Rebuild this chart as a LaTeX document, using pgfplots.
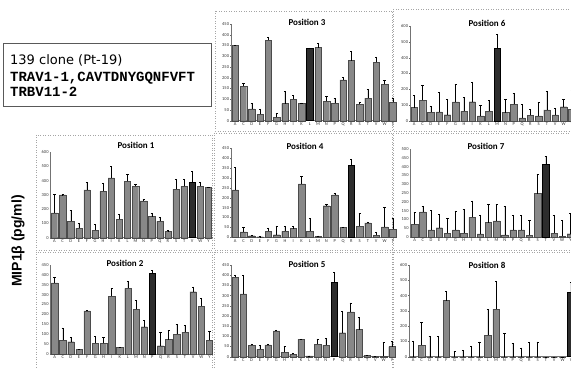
\documentclass[border=0pt]{standalone}
\usepackage{pgfplots}
\pgfplotsset{compat=1.18}
\usepackage{fontspec}
\newfontfamily\calibri{Carlito}
\newfontfamily\monob{Liberation Mono}
\newfontfamily\dejavu{DejaVu Sans}
\newfontfamily\labfont{Liberation Sans}
\definecolor{barfill}{RGB}{136,136,136}
\definecolor{baredge}{RGB}{75,75,75}
\definecolor{darkfill}{RGB}{45,45,45}
\definecolor{panelline}{RGB}{165,165,165}
\newcommand{\tickfont}{\calibri\fontsize{4.5}{5}\selectfont}
\pgfplotsset{
  panel/.style={
    scale only axis, anchor=south west,
    xmin=-0.5, xmax=19.5, ymin=0,
    axis x line=bottom, axis y line=left,
    axis line style={-, black!55, line width=0.4pt},
    xtick={0,...,19},
    xticklabels={A,C,D,E,F,G,H,I,K,L,M,N,P,Q,R,S,T,V,W,Y},
    xtick style={draw=none},
    ytick style={black!60, line width=0.3pt},
    major tick length=1.5pt,
    tick label style={font=\tickfont, text=black!80},
    xticklabel style={inner sep=1pt},
    yticklabel style={inner sep=1pt},
    /pgf/number format/assume math mode=true,
    clip=false,
  },
  gbar/.style={ybar, bar width=0.78, bar shift=0pt, fill=barfill, draw=baredge, line width=0.3pt,
    error bars/y dir=plus, error bars/y explicit,
    error bars/error bar style={black, line width=0.35pt},
    error bars/error mark options={rotate=90, black, mark size=1.1pt, line width=0.35pt}},
  dbar/.style={ybar, bar width=0.78, bar shift=0pt, fill=darkfill, draw=black, line width=0.5pt,
    error bars/y dir=plus, error bars/y explicit,
    error bars/error bar style={black, line width=0.35pt},
    error bars/error mark options={rotate=90, black, mark size=1.1pt, line width=0.35pt}},
}
\begin{document}
\begin{tikzpicture}[x=1pt,y=1pt]
\useasboundingbox (0,0) rectangle (571,369);
\clip (0,0) rectangle (571,369);
% panel borders
\begin{scope}[panelline, dotted, line width=0.5pt]
\draw (215,358) rectangle (392,238);
\draw (393,360) rectangle (575,238);
\draw (36,234) rectangle (212,119);
\draw (214,236) rectangle (392,119);
\draw (393,236) rectangle (575,119);
\draw (36,117) rectangle (212,-3);
\draw (214,117) rectangle (392,-3);
\draw (393,117) rectangle (575,-3);
\end{scope}

% Position 3
\begin{axis}[panel, at={(231pt,248.3pt)}, width=166pt, height=96.7pt, ymax=450, ytick={0,50,...,450}]
\addplot[gbar] table[x=x,y=y,y error=e] {
x y e
0 350 3
1 160 15
2 55 25
3 30 25
4 375 12
5 15 18
6 80 57
7 100 17
8 80 3
10 340 20
11 90 22
12 82 22
13 190 12
14 280 45
15 77 8
16 105 40
17 272 25
18 170 18
19 85 22
};
\addplot[dbar] table[x=x,y=y,y error=e] {
x y e
9 337 2
};
\end{axis}

% Position 6
\begin{axis}[panel, at={(410pt,248pt)}, width=166pt, height=95pt, ymax=600, ytick={0,100,...,600}]
\addplot[gbar] table[x=x,y=y,y error=e] {
x y e
0 85 75
1 130 95
2 55 40
3 58 125
4 40 95
5 120 110
6 60 90
7 122 125
8 33 67
9 62 68
11 53 85
12 105 70
13 20 85
14 35 40
15 33 85
16 70 120
17 38 42
18 90 47
19 72 125
};
\addplot[dbar] table[x=x,y=y,y error=e] {
x y e
10 460 88
};
\end{axis}

% Position 1
\begin{axis}[panel, at={(50.5pt,131.3pt)}, width=162pt, height=85.5pt, ymax=600, ytick={0,100,...,600}]
\addplot[gbar] table[x=x,y=y,y error=e] {
x y e
0 175 130
1 300 3
2 115 75
3 65 35
4 335 55
5 52 40
6 325 60
7 420 80
8 130 35
9 395 50
10 360 15
11 258 12
12 148 22
13 115 28
14 45 5
15 340 70
16 360 50
18 360 30
19 355 2
};
\addplot[dbar] table[x=x,y=y,y error=e] {
x y e
17 390 75
};
\end{axis}

% Position 4
\begin{axis}[panel, at={(231pt,131.7pt)}, width=166pt, height=89pt, ymax=450, ytick={0,50,...,450}]
\addplot[gbar] table[x=x,y=y,y error=e] {
x y e
0 240 115
1 28 25
2 8 2
3 3 1
4 30 18
5 13 45
6 30 28
7 44 13
8 270 37
9 30 65
10 5 3
11 160 8
12 215 8
13 50 3
15 57 63
16 73 5
17 10 18
18 53 100
19 40 57
};
\addplot[dbar] table[x=x,y=y,y error=e] {
x y e
14 362 35
};
\end{axis}

% Position 7
\begin{axis}[panel, at={(410.5pt,132pt)}, width=164pt, height=88pt, ymax=500, ytick={0,50,...,500}]
\addplot[gbar] table[x=x,y=y,y error=e] {
x y e
0 72 70
1 143 32
2 40 113
3 53 75
4 22 85
5 40 108
6 22 135
7 112 94
8 18 107
9 82 105
10 92 95
11 12 165
12 40 85
13 40 82
14 11 83
15 247 108
17 22 103
18 4 90
19 19 115
};
\addplot[dbar] table[x=x,y=y,y error=e] {
x y e
16 415 45
};
\end{axis}

% Position 2
\begin{axis}[panel, at={(50.5pt,15pt)}, width=163pt, height=89pt, ymax=450, ytick={0,50,...,450}]
\addplot[gbar] table[x=x,y=y,y error=e] {
x y e
0 360 28
1 70 63
2 62 22
3 22 2
4 218 2
5 55 33
6 54 30
7 293 38
8 33 2
9 332 38
10 225 45
11 138 33
13 42 70
14 73 45
15 99 50
16 110 35
17 315 25
18 242 38
19 70 45
};
\addplot[dbar] table[x=x,y=y,y error=e] {
x y e
12 408 15
};
\end{axis}

% Position 5
\begin{axis}[panel, at={(231pt,12.3pt)}, width=165pt, height=91.7pt, ymax=450, ytick={0,50,...,450}]
\addplot[gbar] table[x=x,y=y,y error=e] {
x y e
0 390 12
1 308 93
2 55 8
3 36 20
4 58 3
5 127 5
6 21 30
7 11 8
8 85 2
9 4 1
10 62 25
11 55 35
13 118 103
14 220 45
15 133 62
16 7 2
17 1 0
18 1 68
19 50 25
};
\addplot[dbar] table[x=x,y=y,y error=e] {
x y e
12 365 50
};
\end{axis}

% Position 8
\begin{axis}[panel, at={(409pt,12.3pt)}, width=166pt, height=91.7pt, ymax=600, ytick={0,100,...,600}]
\addplot[gbar] table[x=x,y=y,y error=e] {
x y e
0 0 103
1 76 147
2 0 135
3 0 135
4 367 60
5 0 37
6 0 44
7 0 70
8 0 98
9 140 170
10 312 180
11 0 153
12 0 87
13 0 59
14 0 92
15 0 98
16 0 0
17 0 0
18 0 0
};
\addplot[dbar] table[x=x,y=y,y error=e] {
x y e
19 420 65
};
\end{axis}

% titles
\begin{scope}[every node/.style={font=\calibri\bfseries\fontsize{9}{10}\selectfont, inner sep=0pt}]
\node at (307,347) {Position 3};
\node at (487,346) {Position 6};
\node at (136,223.5) {Position 1};
\node at (305,222.5) {Position 4};
\node at (486,222.5) {Position 7};
\node at (125,106) {Position 2};
\node at (307,105) {Position 5};
\node at (487,104) {Position 8};
\end{scope}

% y label
\node[rotate=90, font=\labfont\bfseries\fontsize{14}{16}\selectfont, inner sep=0pt] at (18,128) {MIP1β (pg/ml)};

% info box
\draw[black!65, line width=0.8pt] (3,326) rectangle (211,263);
\node[anchor=base west, inner sep=0pt, font=\dejavu\fontsize{13}{15}\selectfont] at (10,304) {139 clone (Pt-19)};
\node[anchor=base west, inner sep=0pt, font=\monob\bfseries\fontsize{14}{16}\selectfont] at (10,287.5) {TRAV1-1,CAVTDNYGQNFVFT};
\node[anchor=base west, inner sep=0pt, font=\monob\bfseries\fontsize{14}{16}\selectfont] at (10,272.5) {TRBV11-2};
\end{tikzpicture}
\end{document}
